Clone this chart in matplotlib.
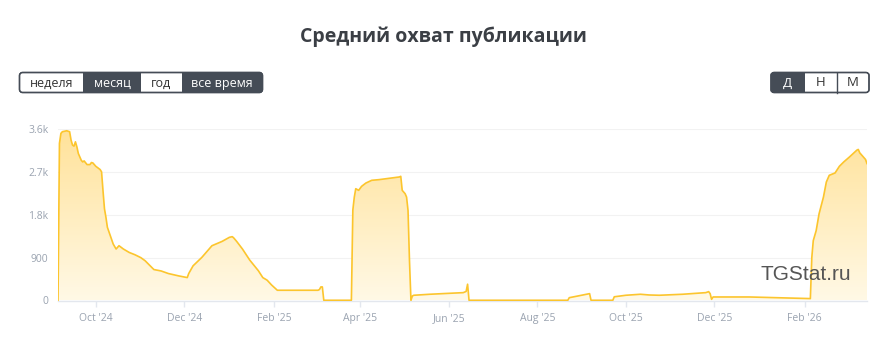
import matplotlib
matplotlib.use("Agg")
import matplotlib.pyplot as plt
import matplotlib.dates as mdates
from matplotlib.patches import FancyBboxPatch, Rectangle
import numpy as np
import pandas as pd

# ---------------- data ----------------
dates = [
    "2024-09-05", "2024-09-06", "2024-09-07", "2024-09-08", "2024-09-11", "2024-09-13",
    "2024-09-14", "2024-09-15", "2024-09-16", "2024-09-17", "2024-09-18", "2024-09-19",
    "2024-09-21", "2024-09-22", "2024-09-23", "2024-09-25", "2024-09-27", "2024-09-28",
    "2024-09-29", "2024-10-01", "2024-10-04", "2024-10-05", "2024-10-06", "2024-10-07",
    "2024-10-08", "2024-10-09", "2024-10-11", "2024-10-13", "2024-10-15", "2024-10-17",
    "2024-10-20", "2024-10-24", "2024-10-28", "2024-11-01", "2024-11-04", "2024-11-10",
    "2024-11-15", "2024-11-20", "2024-11-27", "2024-12-03", "2024-12-04", "2024-12-07",
    "2024-12-13", "2024-12-20", "2024-12-27", "2025-01-01", "2025-01-03", "2025-01-04",
    "2025-01-06", "2025-01-10", "2025-01-15", "2025-01-21", "2025-01-24", "2025-01-27",
    "2025-01-30", "2025-02-03", "2025-03-03", "2025-03-04", "2025-03-05", "2025-03-06",
    "2025-03-07", "2025-03-26", "2025-03-27", "2025-03-28", "2025-03-29", "2025-03-31",
    "2025-04-02", "2025-04-05", "2025-04-09", "2025-04-14", "2025-04-28", "2025-04-29",
    "2025-04-30", "2025-05-02", "2025-05-03", "2025-05-04", "2025-05-05", "2025-05-06",
    "2025-05-07", "2025-05-08", "2025-05-19", "2025-06-11", "2025-06-13", "2025-06-14",
    "2025-06-15", "2025-08-22", "2025-08-23", "2025-08-28", "2025-09-06", "2025-09-07",
    "2025-09-22", "2025-09-23", "2025-10-01", "2025-10-11", "2025-10-17", "2025-10-24",
    "2025-11-09", "2025-11-25", "2025-11-27", "2025-11-28", "2025-11-29", "2025-11-30",
    "2025-12-25", "2026-02-05", "2026-02-06", "2026-02-07", "2026-02-09", "2026-02-11",
    "2026-02-14", "2026-02-16", "2026-02-18", "2026-02-22", "2026-02-25", "2026-02-28",
    "2026-03-04", "2026-03-09", "2026-03-10", "2026-03-11", "2026-03-15", "2026-03-16",
]
reach = [
    0, 3300, 3508, 3543, 3563, 3543,
    3367, 3262, 3240, 3331, 3226, 3086,
    2945, 2909, 2930, 2853, 2853, 2896,
    2888, 2818, 2749, 2700, 2300, 1925,
    1748, 1537, 1362, 1186, 1081, 1150,
    1081, 1009, 960, 900, 834, 650,
    620, 566, 517, 481, 566, 728,
    904, 1150, 1241, 1326, 1340, 1313,
    1241, 1081, 849, 623, 481, 426,
    327, 215, 215, 230, 285, 285,
    5, 5, 1900, 2170, 2347, 2312,
    2396, 2466, 2523, 2537, 2593, 2607,
    2312, 2242, 2170, 1889, 834, 5,
    95, 110, 131, 165, 190, 342,
    5, 5, 59, 89, 144, 5,
    5, 78, 110, 131, 116, 110,
    131, 165, 186, 144, 25, 74,
    74, 40, 904, 1256, 1467, 1820,
    2170, 2487, 2628, 2677, 2818, 2909,
    3015, 3156, 3171, 3100, 2960, 2875,
]
y_ticks = [0, 900, 1800, 2700, 3600]
y_tick_labels = ["0", "900", "1.8k", "2.7k", "3.6k"]
x_ticks = ["2024-10-01", "2024-12-01", "2025-02-01", "2025-04-01", "2025-06-01",
           "2025-08-01", "2025-10-01", "2025-12-01", "2026-02-01"]
x_tick_labels = ["Oct '24", "Dec '24", "Feb '25", "Apr '25", "Jun '25",
                 "Aug '25", "Oct '25", "Dec '25", "Feb '26"]
title = "Средний охват публикации"
period_buttons = ["неделя", "месяц", "год", "все время"]
period_active = [False, True, False, True]
scale_buttons = ["Д", "Н", "М"]
scale_active = [True, False, False]
watermark = "TGStat.ru"

# ---------------- figure ----------------
plt.rcParams['font.family'] = ['Open Sans', 'DejaVu Sans']
W, H = 885, 340
fig = plt.figure(figsize=(W / 100, H / 100), dpi=100)
fig.patch.set_facecolor("white")

def px_axes(l, t, r, b):
    return [l / W, 1 - b / H, (r - l) / W, (b - t) / H]

ax = fig.add_axes(px_axes(58, 129, 867, 300.5))
x = mdates.date2num(pd.to_datetime(dates))
y = np.array(reach, dtype=float)

line_col = "#fcc52d"
fill = ax.fill_between(x, y, 0, facecolor="none", edgecolor="none")
clip_path = fill.get_paths()[0]
grad = np.linspace(0, 1, 256).reshape(-1, 1)
top = np.array([1.0, 0.886, 0.60])
bot = np.array([1.0, 0.975, 0.90])
img = bot + (top - bot) * grad[..., None] * np.ones((1, 2, 1))
im = ax.imshow(img, extent=[x[0], x[-1], 0, 3600], origin="lower",
               aspect="auto", zorder=1, interpolation="bilinear")
im.set_clip_path(clip_path, transform=ax.transData)
ax.plot(x, y, color=line_col, lw=1.2, zorder=3, solid_joinstyle="round")

ax.set_xlim(x[0], x[-1])
ax.set_ylim(0, 3600)
ax.set_yticks(y_ticks)
ax.set_yticklabels(y_tick_labels)
xt = mdates.date2num(pd.to_datetime(x_ticks))
ax.set_xticks(xt)
ax.set_xticklabels(x_tick_labels)
tick_col = "#9aa3b0"
ax.tick_params(axis="y", length=0, pad=7, labelsize=7.5, labelcolor=tick_col)
ax.tick_params(axis="x", length=4, width=1, color="#e3e7ee", pad=5,
               labelsize=7.5, labelcolor=tick_col)
for s in ["top", "right", "left"]:
    ax.spines[s].set_visible(False)
ax.spines["bottom"].set_color("#e3e7ee")
ax.spines["bottom"].set_linewidth(1)
ax.grid(axis="y", color="#f2f2f2", lw=0.8, zorder=0)
ax.set_axisbelow(True)
ax.set_facecolor("none")

# ---------------- overlay (title, buttons, watermark) ----------------
ov = fig.add_axes([0, 0, 1, 1], zorder=5)
ov.set_xlim(0, W)
ov.set_ylim(H, 0)
ov.axis("off")
ov.patch.set_alpha(0)

ov.text(443, 37, title, ha="center", va="center", fontsize=14,
        fontweight="bold", color="#3b3f45")

dark = "#454c56"

def button_group(x0, y0, x1, y1, edges, labels, active, fs=9):
    outer = FancyBboxPatch((x0, y0), x1 - x0, y1 - y0,
                           boxstyle="round,pad=0,rounding_size=3",
                           facecolor="white", edgecolor=dark, lw=1, zorder=1)
    ov.add_patch(outer)
    for i, lab in enumerate(labels):
        a, b = edges[i], edges[i + 1]
        if active[i]:
            r = Rectangle((a, y0), b - a, y1 - y0, facecolor=dark,
                          edgecolor="none", zorder=2)
            ov.add_patch(r)
            r.set_clip_path(outer)
        elif i > 0 and not active[i - 1]:
            ov.plot([a, a], [y0, y1], color=dark, lw=1, zorder=2)
        ov.text((a + b) / 2, (y0 + y1) / 2 + 0.5, lab, ha="center", va="center",
                fontsize=fs, color="white" if active[i] else "#333333", zorder=3)
    border = FancyBboxPatch((x0, y0), x1 - x0, y1 - y0,
                            boxstyle="round,pad=0,rounding_size=3",
                            facecolor="none", edgecolor=dark, lw=1, zorder=4)
    ov.add_patch(border)

button_group(19.5, 72.5, 262.5, 92.5, [19.5, 83, 141, 182, 262.5],
             period_buttons, period_active)
button_group(771, 72.5, 869, 92.5, [771, 804.5, 836.5, 869],
             scale_buttons, scale_active, fs=9.5)

ov.text(806, 274, watermark, ha="center", va="center", fontsize=15,
        color="#555555", family=["Liberation Sans", "DejaVu Sans"], zorder=6)

fig.savefig("out.png", dpi=100, facecolor="white")
